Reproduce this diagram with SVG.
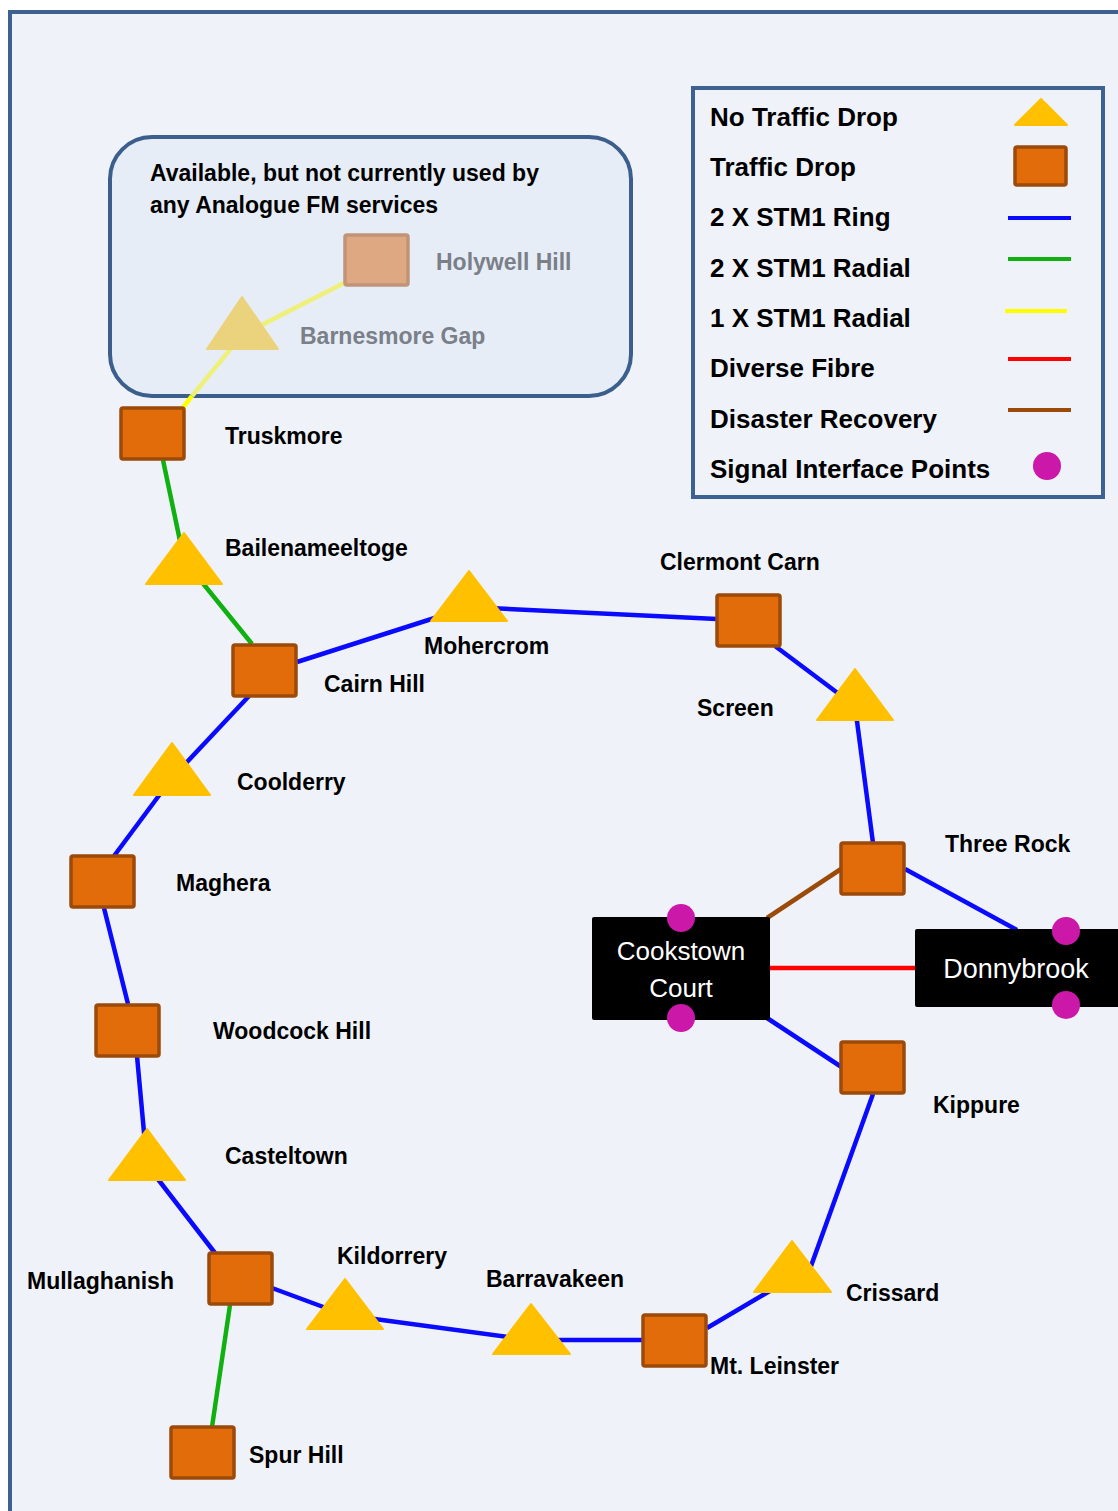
<svg xmlns="http://www.w3.org/2000/svg" width="1118" height="1511" viewBox="0 0 1118 1511">
<style>
.lbl{font-family:"Liberation Sans",Arial,sans-serif;font-weight:bold;font-size:23px;fill:#000}
.leg{font-family:"Liberation Sans",Arial,sans-serif;font-weight:bold;font-size:26px;fill:#000}
.gray{font-family:"Liberation Sans",Arial,sans-serif;font-weight:bold;font-size:23px;fill:#7a7f88}
.wt{font-family:"Liberation Sans",Arial,sans-serif;font-size:26px;fill:#fff;text-anchor:middle}
.sq{fill:#e36c0a;stroke:#9c4a0a;stroke-width:3.5}
.tri{fill:#ffc000;stroke:#ffc000;stroke-width:2;stroke-linejoin:round}
.blue{stroke:#0a0aff;stroke-width:4.5;fill:none}
.green{stroke:#10b010;stroke-width:4.5;fill:none}
.sip{fill:#cc18a8}
</style>
<rect x="0" y="0" width="1118" height="1511" fill="#ffffff"/>
<rect x="10" y="12" width="1120" height="1520" fill="#eff3f9" stroke="#3d6191" stroke-width="4"/>

<g id="inset">
<rect x="110" y="137" width="521" height="259" rx="42" fill="#e6edf6" stroke="#3b5e8c" stroke-width="4"/>
<text class="lbl" x="150" y="181">Available, but not currently used by</text>
<text class="lbl" x="150" y="213">any Analogue FM services</text>
</g>

<g id="connectors">
<line x1="181" y1="410" x2="192" y2="396" stroke="#ffff00" stroke-width="4.5"/>
<polyline points="192,396 242,335 344,283" fill="none" stroke="#eef07a" stroke-width="4.5"/>
<polyline class="green" points="163,460 184,560 252,644"/>
<line class="blue" x1="297" y1="662" x2="469" y2="607"/>
<line class="blue" x1="469" y1="607" x2="717" y2="619"/>
<line class="blue" x1="775" y1="646" x2="855" y2="706"/>
<line class="blue" x1="855" y1="706" x2="873" y2="843"/>
<line class="blue" x1="905" y1="869" x2="1017" y2="930"/>
<line class="blue" x1="767" y1="1018" x2="843" y2="1068"/>
<line class="blue" x1="873" y1="1094" x2="806" y2="1280"/>
<line class="blue" x1="792" y1="1278" x2="707" y2="1328"/>
<line class="blue" x1="642" y1="1340" x2="531" y2="1340"/>
<line class="blue" x1="531" y1="1340" x2="345" y2="1315"/>
<line class="blue" x1="345" y1="1315" x2="272" y2="1288"/>
<line class="blue" x1="215" y1="1253" x2="147" y2="1165"/>
<line class="blue" x1="147" y1="1165" x2="137" y2="1056"/>
<line class="blue" x1="128" y1="1004" x2="104" y2="908"/>
<line class="blue" x1="114" y1="856" x2="172" y2="778"/>
<line class="blue" x1="172" y1="778" x2="249" y2="696"/>
<line x1="767" y1="918" x2="841" y2="869" stroke="#9c4a0a" stroke-width="4.5"/>
<line x1="770" y1="968" x2="915" y2="968" stroke="#ff0000" stroke-width="4.5"/>
<line class="green" x1="230" y1="1305" x2="212" y2="1427"/>
</g>

<g id="holywell-hill"><rect x="345" y="235" width="63" height="50" rx="2" fill="#dea883" stroke="#c09478" stroke-width="3.5"/><text class="gray" x="436" y="270">Holywell Hill</text></g>
<g id="barnesmore-gap"><polygon points="242,297 207,349 278,349" fill="#ebd27c" stroke="#ebd27c" stroke-width="2" stroke-linejoin="round"/><text class="gray" x="300" y="344">Barnesmore Gap</text></g>
<g id="truskmore"><rect class="sq" x="121" y="408" width="63" height="51" rx="2"/><text class="lbl" x="225" y="444">Truskmore</text></g>
<g id="bailenameeltoge"><polygon class="tri" points="184,533 146,584 222,584"/><text class="lbl" x="225" y="556">Bailenameeltoge</text></g>
<g id="cairn-hill"><rect class="sq" x="233" y="645" width="63" height="51" rx="2"/><text class="lbl" x="324" y="692">Cairn Hill</text></g>
<g id="mohercrom"><polygon class="tri" points="469,571 431,621 507,621"/><text class="lbl" x="424" y="654">Mohercrom</text></g>
<g id="clermont-carn"><rect class="sq" x="717" y="595" width="63" height="51" rx="2"/><text class="lbl" x="660" y="570">Clermont Carn</text></g>
<g id="screen"><polygon class="tri" points="855,669 817,720 893,720"/><text class="lbl" x="697" y="716">Screen</text></g>
<g id="three-rock"><rect class="sq" x="841" y="843" width="63" height="51" rx="2"/><text class="lbl" x="945" y="852">Three Rock</text></g>
<g id="cookstown-court"><rect x="592" y="917" width="178" height="103" rx="2" fill="#000"/><text class="wt" x="681" y="960">Cookstown</text><text class="wt" x="681" y="997">Court</text><circle class="sip" cx="681" cy="918" r="14"/><circle class="sip" cx="681" cy="1018" r="14"/></g>
<g id="donnybrook"><rect x="915" y="929" width="205" height="78" rx="2" fill="#000"/><text class="wt" x="1016" y="978" style="font-size:27px">Donnybrook</text><circle class="sip" cx="1066" cy="931" r="14"/><circle class="sip" cx="1066" cy="1005" r="14"/></g>
<g id="kippure"><rect class="sq" x="841" y="1042" width="63" height="51" rx="2"/><text class="lbl" x="933" y="1113">Kippure</text></g>
<g id="crissard"><polygon class="tri" points="792,1241 754,1292 831,1292"/><text class="lbl" x="846" y="1301">Crissard</text></g>
<g id="mt-leinster"><rect class="sq" x="643" y="1315" width="63" height="51" rx="2"/><text class="lbl" x="710" y="1374">Mt. Leinster</text></g>
<g id="barravakeen"><polygon class="tri" points="531,1304 493,1354 570,1354"/><text class="lbl" x="486" y="1287">Barravakeen</text></g>
<g id="kildorrery"><polygon class="tri" points="345,1279 307,1329 383,1329"/><text class="lbl" x="337" y="1264">Kildorrery</text></g>
<g id="mullaghanish"><rect class="sq" x="209" y="1253" width="63" height="51" rx="2"/><text class="lbl" x="27" y="1289">Mullaghanish</text></g>
<g id="spur-hill"><rect class="sq" x="171" y="1427" width="63" height="51" rx="2"/><text class="lbl" x="249" y="1463">Spur Hill</text></g>
<g id="casteltown"><polygon class="tri" points="147,1129 109,1180 185,1180"/><text class="lbl" x="225" y="1164">Casteltown</text></g>
<g id="woodcock-hill"><rect class="sq" x="96" y="1005" width="63" height="51" rx="2"/><text class="lbl" x="213" y="1039">Woodcock Hill</text></g>
<g id="maghera"><rect class="sq" x="71" y="856" width="63" height="51" rx="2"/><text class="lbl" x="176" y="891">Maghera</text></g>
<g id="coolderry"><polygon class="tri" points="172,743 134,795 210,795"/><text class="lbl" x="237" y="790">Coolderry</text></g>

<g id="legend">
<rect x="693" y="88" width="410" height="409" fill="#eff3f9" stroke="#3d6191" stroke-width="4"/>
<text class="leg" x="710" y="126">No Traffic Drop</text>
<text class="leg" x="710" y="176">Traffic Drop</text>
<text class="leg" x="710" y="226">2 X STM1 Ring</text>
<text class="leg" x="710" y="277">2 X STM1 Radial</text>
<text class="leg" x="710" y="327">1 X STM1 Radial</text>
<text class="leg" x="710" y="377">Diverse Fibre</text>
<text class="leg" x="710" y="428">Disaster Recovery</text>
<text class="leg" x="710" y="478">Signal Interface Points</text>
<polygon class="tri" points="1041,99 1015,125 1067,125"/>
<rect class="sq" x="1015" y="147" width="51" height="38" rx="2"/>
<line x1="1008" y1="218" x2="1071" y2="218" stroke="#0a0aff" stroke-width="4"/>
<line x1="1008" y1="259" x2="1071" y2="259" stroke="#10b010" stroke-width="4"/>
<line x1="1005" y1="311" x2="1067" y2="311" stroke="#ffff00" stroke-width="4"/>
<line x1="1008" y1="359" x2="1071" y2="359" stroke="#ff0000" stroke-width="4"/>
<line x1="1008" y1="410" x2="1071" y2="410" stroke="#9c4a0a" stroke-width="4"/>
<circle class="sip" cx="1047" cy="466" r="14"/>
</g>
</svg>
